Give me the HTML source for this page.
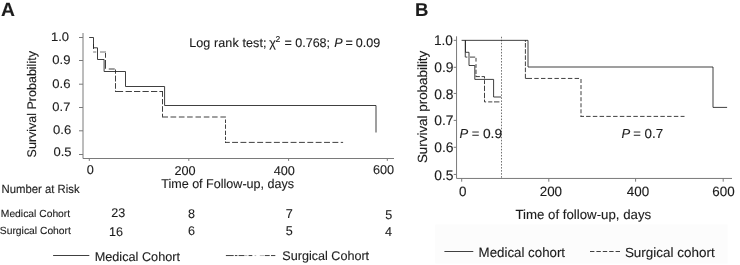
<!DOCTYPE html>
<html>
<head>
<meta charset="utf-8">
<title>Kaplan-Meier survival curves</title>
<style>
html,body{margin:0;padding:0;background:#fff;}
body{width:740px;height:265px;overflow:hidden;font-family:"Liberation Sans",sans-serif;}
svg{display:block;will-change:transform;}
text{font-family:"Liberation Sans",sans-serif;fill:#1c1c1c;stroke:#1c1c1c;stroke-width:0.12;text-rendering:geometricPrecision;}
.ax{stroke:#7a7a7a;stroke-width:1;fill:none;}
.so{stroke:#262626;stroke-width:0.88;fill:none;}
.da{stroke:#262626;stroke-width:0.88;fill:none;}
.st{}
</style>
</head>
<body>
<svg width="740" height="265" viewBox="0 0 740 265">
<rect x="0" y="0" width="740" height="265" fill="#ffffff"/>

<!-- ================= Panel A ================= -->
<text x="1.1" y="16.3" font-size="19.3" font-weight="bold" fill="#000">A</text>

<!-- axes -->
<path class="ax" d="M83 33 V158.5 H394"/>
<path class="ax" d="M79 37.5 H83 M79 60.5 H83 M79 84.2 H83 M79 107.5 H83 M79 130.8 H83 M79 154.5 H83"/>
<path class="ax" d="M89.3 158.5 V160.9 M188.8 158.5 V160.9 M288.6 158.5 V160.9 M387.3 158.5 V160.9"/>

<!-- y tick labels -->
<g font-size="12.4">
<text x="50.9" y="40.8" textLength="18.1" lengthAdjust="spacingAndGlyphs">1.0</text>
<text x="52.35" y="64.1" textLength="18.2" lengthAdjust="spacingAndGlyphs">0.9</text>
<text x="52.35" y="87.5" textLength="18.2" lengthAdjust="spacingAndGlyphs">0.6</text>
<text x="52.35" y="110.5" textLength="18.0" lengthAdjust="spacingAndGlyphs">0.7</text>
<text x="53.1" y="133.5" textLength="18.2" lengthAdjust="spacingAndGlyphs">0.6</text>
<text x="53.5" y="156.3" textLength="18.1" lengthAdjust="spacingAndGlyphs">0.5</text>
</g>
<!-- x tick labels -->
<g font-size="12.7">
<text x="86.7" y="174.4">0</text>
<text x="174.4" y="174.5">200</text>
<text x="273.7" y="174.5">400</text>
<text x="372.9" y="174.4">600</text>
</g>
<text x="161.2" y="188.4" font-size="12.7" textLength="132.9" lengthAdjust="spacingAndGlyphs">Time of Follow-up, days</text>
<text transform="translate(36.2,157.4) rotate(-90)" font-size="12.5">Survival Probability</text>
<text y="46.8" font-size="12.55"><tspan x="189.2" letter-spacing="0.1">Log rank test;</tspan><tspan x="269.3">χ</tspan><tspan x="275.5" font-size="8.6" dy="-4.7">2</tspan><tspan x="284.5" dy="4.7">=</tspan><tspan x="295.2">0.768;</tspan><tspan x="334.2" font-style="italic">P</tspan><tspan x="345.6">=</tspan><tspan x="355.7">0.09</tspan></text>

<!-- curves -->
<path class="da" d="M93.5 44V49 M105.5 53V57.75 M105.5 60V68.75 M108.75 69H114.75 M115.5 69.5V73.75 M115.5 75.6V81.5 M115.5 83.1V88.75 M115.5 90.6V91.5 M115.1 91.5H123.1 M125.6 91.5H131.9 M134 91.5H140.25 M142.5 91.5H148.75 M151 91.5H157.25 M159.4 91.5H163 M162.5 91.5V96.85 M162.5 99V104.3 M162.5 106.2V111.8 M162.5 113.7V116.8 M162 117H168 M170.5 117H176.2 M178.9 117H184.5 M187.1 117H192.7 M195.5 117H201 M203.8 117H209.4 M212.1 117H217.6 M220.4 117H225.9 M225.5 119.5V123 M225.5 124.5V128.8 M225.5 130.7V135 M225.5 136.7V140 M225.5 141.5V142.8 M225 142.4H229.8 M232.1 142.4H238 M240.46 142.4H246.36 M248.82 142.4H254.72 M257.18 142.4H263.08 M265.54 142.4H271.44 M273.9 142.4H279.8 M282.26 142.4H288.16 M290.62 142.4H296.52 M298.98 142.4H304.88 M307.34 142.4H313.24 M315.7 142.4H321.6 M324.06 142.4H329.96 M332.42 142.4H338.32 M340.78 142.4H343.1"/>
<path class="da" opacity="0.72" d="M93.1 52H96.25 M100 52H106"/>
<path class="so" d="M89.2 37.5 H93.5 V47.8 H97.5 V59.5 H104.1 V71.5 H125.5 V86.5 H164.6 V105.5 H376 V132.5"/>

<!-- risk table -->
<text x="1.5" y="192.7" font-size="11.9" textLength="78.1" lengthAdjust="spacingAndGlyphs">Number at Risk</text>
<text x="0.8" y="216.75" font-size="10.32">Medical Cohort</text>
<text x="-0.2" y="233.75" font-size="10.32">Surgical Cohort</text>
<g font-size="12.6">
<text x="111.2" y="217">23</text>
<text x="188.1" y="217.6">8</text>
<text x="285.8" y="217.7">7</text>
<text x="385.2" y="218.9">5</text>
<text x="109" y="235.5">16</text>
<text x="188.1" y="235.3">6</text>
<text x="285.8" y="235.3">5</text>
<text x="384.9" y="235.5">4</text>
</g>

<!-- legend A -->
<path class="so" d="M53.1 255.5 H89.3"/>
<path class="da" d="M225.9 255.55H233.7 M234.9 255.55H237.4 M238.6 255.55H244.2 M248.6 255.55H252.3 M264.8 255.55H269.7 M271 255.55H275.3"/>
<path class="da" opacity="0.35" d="M244.2 255.55H247.4 M254.6 255.55H256.2 M259.8 255.55H264.1"/>
<text x="94.7" y="260.8" font-size="12.7">Medical Cohort</text>
<text x="282.3" y="260.3" font-size="12.6">Surgical Cohort</text>

<!-- ================= Panel B ================= -->
<text x="415" y="16.2" font-size="18.6" font-weight="bold" fill="#000">B</text>
<rect x="435.2" y="224.5" width="292.3" height="39" fill="#fcfcfc"/>

<path class="ax" d="M456.55 36.3 V178.45 H732"/>
<path class="ax" d="M453.7 40.35 H456.5 M453.7 67.3 H456.5 M453.7 93.45 H456.5 M453.7 120.4 H456.5 M453.7 147.3 H456.5 M453.7 174.45 H456.5"/>
<path class="ax" d="M461.7 178.4 V181.7 M548.8 178.4 V181.7 M635.6 178.4 V181.7 M723.2 178.4 V181.7"/>
<path d="M501.5 35.8 V178.3" stroke="#5a5a5a" stroke-width="0.85" stroke-dasharray="1.55 1.48" stroke-dashoffset="2.06" fill="none"/>

<g font-size="14">
<text x="433.9" y="45.4" textLength="19" lengthAdjust="spacingAndGlyphs">1.0</text>
<text x="434.2" y="72.1" textLength="19.3" lengthAdjust="spacingAndGlyphs">0.9</text>
<text x="434.2" y="98.8" textLength="19.3" lengthAdjust="spacingAndGlyphs">0.8</text>
<text x="434.2" y="124.9" textLength="19.3" lengthAdjust="spacingAndGlyphs">0.7</text>
<text x="434.2" y="151.7" textLength="19.3" lengthAdjust="spacingAndGlyphs">0.6</text>
<text x="434.2" y="180.1" textLength="19.3" lengthAdjust="spacingAndGlyphs">0.5</text>
</g>
<g font-size="13.4">
<text x="458.9" y="196.2">0</text>
<text x="539.7" y="196.2">200</text>
<text x="626.8" y="196.2">400</text>
<text x="712.3" y="196.2">600</text>
</g>
<text x="515.4" y="218.6" font-size="13.25">Time of follow-up, days</text>
<text transform="translate(427.3,163.1) rotate(-90)" font-size="13.3" textLength="112.4" lengthAdjust="spacingAndGlyphs">Survival probability</text>
<g font-size="13"><text x="459.6" y="138.25" font-style="italic">P</text><text x="471.7" y="138.25">=</text><text x="482.9" y="138.25" textLength="19.2" lengthAdjust="spacingAndGlyphs">0.9</text></g>
<g font-size="13"><text x="621.4" y="138.1" font-style="italic">P</text><text x="633.3" y="138.1">=</text><text x="644.6" y="138.1" textLength="18.6" lengthAdjust="spacingAndGlyphs">0.7</text></g>

<path class="da" d="M465.25 40.35V57.1 M465.4 57.1H467.4 M470 57.1H475.2 M476 57.9V61.6 M476 64.1V67.8 M476 69.7V74 M476 75.5V76.6 M475.7 76.6H479.9 M481.6 76.6H484.5 M484.5 76.5V78.5 M484.5 80.2V84.1 M484.5 85.7V91.1 M484.5 92.8V98.2 M484.5 99.6V101.9 M484.5 101.9H486.1 M488.2 101.9H492.3 M494 101.9H499.4 M525.4 40.1V41.8 M525.4 43V47.6 M525.4 49.15V53.75 M525.4 55.3V59.9 M525.4 61.45V66.05 M525.4 67.6V72.2 M525.4 73.75V78.35 M525.4 78.45H532 M534.3 78.45H538.7 M541.02 78.45H545.42 M547.74 78.45H552.14 M554.46 78.45H558.86 M561.18 78.45H565.58 M567.9 78.45H572.3 M574.62 78.45H579.02 M581 79V83 M581 85.06V89.06 M581 91.12V95.12 M581 97.18V101.18 M581 103.24V107.24 M581 109.3V113.3 M581 115.36V116.7 M580.5 116.4H584 M586.1 116.4H590.55 M592.85 116.4H597.3 M599.6 116.4H604.05 M606.35 116.4H610.8 M613.1 116.4H617.55 M619.85 116.4H624.3 M626.6 116.4H631.05 M633.35 116.4H637.8 M640.1 116.4H644.55 M646.85 116.4H651.3 M653.6 116.4H658.05 M660.35 116.4H664.8 M667.1 116.4H671.55 M673.85 116.4H678.3 M680.6 116.4H684.5"/>
<path class="so" d="M461.6 40.35 H528 V67 H713 V107.4 H727.1"/>
<path class="so" d="M465.5 40.35 V52.3 H469 V65.5 H474.8 V79.4 H493.6 V97 H501.2"/>

<!-- legend B -->
<path class="so" d="M444.4 251.5 H473.3"/>
<path class="da" d="M590 251.5H594.4 M596.4 251.5H600.8 M602.8 251.5H607.2 M609.2 251.5H613.6 M615.6 251.5H620"/>
<text x="478.6" y="257" font-size="13.3">Medical cohort</text>
<text x="624.9" y="257" font-size="13.3" textLength="89.8" lengthAdjust="spacingAndGlyphs">Surgical cohort</text>
</svg>
</body>
</html>
